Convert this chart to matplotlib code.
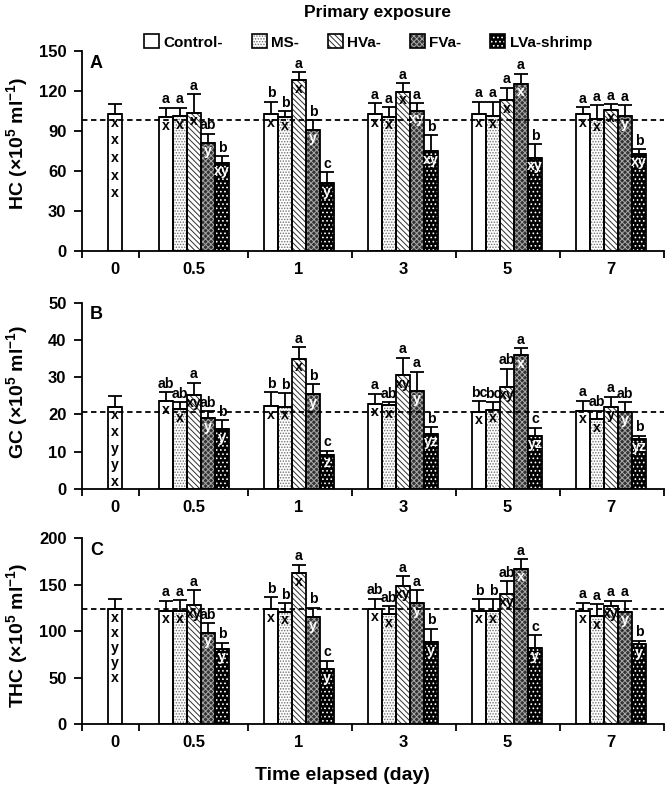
import matplotlib
matplotlib.use('Agg')
import matplotlib.pyplot as plt
from matplotlib.patches import Patch
from matplotlib.legend_handler import HandlerTuple
import numpy as np

plt.rcParams['font.family'] = ['Liberation Sans', 'DejaVu Sans']
plt.rcParams['font.weight'] = 'bold'
plt.rcParams['mathtext.fontset'] = 'custom'
plt.rcParams['mathtext.rm'] = 'Liberation Sans:bold'
plt.rcParams['mathtext.bf'] = 'Liberation Sans:bold'
plt.rcParams['mathtext.it'] = 'Liberation Sans:bold'
plt.rcParams['mathtext.sf'] = 'Liberation Sans:bold'
plt.rcParams['hatch.linewidth'] = 0.7

# ---------------- data ----------------
days = ['0', '0.5', '1', '3', '5', '7']
groups = ['Control-', 'MS-', 'HVa-', 'FVa-', 'LVa-shrimp']

# Panel A: HC
hc_day0 = 102.5
hc_day0_se = 7.5
hc_day0_letters = ['x', 'x', 'x', 'x', 'x']
hc_ref = 98.3
hc_mean = [[100.3, 101.0, 103.7, 81.0, 66.0],
           [102.5, 100.3, 128.0, 90.8, 50.7],
           [102.5, 100.8, 119.5, 105.0, 74.8],
           [102.5, 101.5, 113.0, 125.5, 69.8],
           [102.5, 99.3, 105.8, 101.5, 73.0]]
hc_se = [[7.2, 6.5, 13.8, 7.0, 5.0],
         [9.5, 4.7, 6.0, 7.2, 8.3],
         [8.3, 7.2, 6.5, 5.8, 12.2],
         [9.3, 10.3, 9.5, 7.3, 10.5],
         [5.5, 10.2, 4.2, 8.0, 3.3]]
hc_top = [['a', 'a', 'a', 'ab', 'b'],
          ['b', 'b', 'a', 'b', 'c'],
          ['a', 'a', 'a', 'a', 'b'],
          ['a', 'a', 'a', 'a', 'b'],
          ['a', 'a', 'a', 'a', 'b']]
hc_bot = [['x', 'x', 'x', 'y', 'xy'],
          ['x', 'x', 'x', 'y', 'y'],
          ['x', 'x', 'x', 'xy', 'xy'],
          ['x', 'x', 'x', 'x', 'xy'],
          ['x', 'x', 'x', 'y', 'xy']]

# Panel B: GC
gc_day0 = 22.0
gc_day0_se = 2.8
gc_day0_letters = ['x', 'x', 'y', 'y', 'x']
gc_ref = 20.6
gc_mean = [[23.5, 21.3, 25.3, 18.9, 16.0],
           [22.2, 22.0, 34.9, 25.4, 9.2],
           [22.8, 22.4, 30.5, 26.4, 14.7],
           [20.6, 21.2, 27.4, 35.9, 14.2],
           [21.0, 18.7, 22.0, 20.6, 13.4]]
gc_se = [[2.5, 2.0, 3.2, 1.9, 2.5],
         [3.8, 3.6, 3.1, 2.7, 1.0],
         [2.7, 0.9, 4.7, 5.1, 1.8],
         [3.0, 2.1, 4.9, 1.9, 2.2],
         [2.7, 2.3, 2.7, 2.7, 0.9]]
gc_top = [['ab', 'ab', 'a', 'ab', 'b'],
          ['b', 'b', 'a', 'b', 'c'],
          ['a', 'ab', 'a', 'a', 'b'],
          ['bc', 'bc', 'ab', 'a', 'c'],
          ['a', 'ab', 'a', 'ab', 'b']]
gc_bot = [['x', 'x', 'xy', 'y', 'y'],
          ['x', 'x', 'x', 'y', 'z'],
          ['x', 'x', 'xy', 'y', 'yz'],
          ['x', 'x', 'xy', 'x', 'yz'],
          ['x', 'x', 'y', 'y', 'yz']]

# Panel C: THC
thc_day0 = 123.7
thc_day0_se = 10.7
thc_day0_letters = ['x', 'x', 'y', 'y', 'x']
thc_ref = 124.3
thc_mean = [[122.2, 122.2, 128.0, 98.5, 81.3],
            [123.7, 120.8, 162.4, 115.0, 59.1],
            [124.3, 118.3, 148.7, 130.8, 88.2],
            [122.2, 122.2, 140.1, 167.0, 82.4],
            [121.8, 116.1, 127.2, 120.8, 86.0]]
thc_se = [[10.7, 11.5, 16.4, 10.1, 6.4],
          [12.9, 9.3, 9.2, 10.4, 9.3],
          [10.7, 8.9, 10.8, 13.6, 14.6],
          [12.2, 12.2, 13.7, 10.4, 13.3],
          [9.0, 13.3, 5.7, 12.1, 3.9]]
thc_top = [['a', 'a', 'a', 'ab', 'b'],
           ['b', 'b', 'a', 'b', 'c'],
           ['ab', 'ab', 'a', 'a', 'b'],
           ['b', 'b', 'ab', 'a', 'c'],
           ['a', 'a', 'a', 'a', 'b']]
thc_bot = [['x', 'x', 'xy', 'y', 'y'],
           ['x', 'x', 'x', 'y', 'y'],
           ['x', 'x', 'xy', 'y', 'y'],
           ['x', 'x', 'xy', 'x', 'y'],
           ['x', 'x', 'xy', 'y', 'y']]

# ---------------- layout / style ----------------
boundaries = [0, 0.55, 1.6, 2.6, 3.6, 4.6, 5.6]
centers = [0.32, 1.08, 2.09, 3.09, 4.09, 5.09]
bw = 0.135

styles = [
    dict(face='white', hatch=None, hcolor='black', txt='black'),
    dict(face='white', hatch='......', hcolor='#707070', txt='black'),
    dict(face='white', hatch='\\\\\\\\\\\\', hcolor='#303030', txt='black'),
    dict(face='#333333', hatch='xxxxxx', hcolor='#a8a8a8', txt='white'),
    dict(face='black', hatch='....', hcolor='white', txt='white'),
]

fig = plt.figure(figsize=(6.72, 7.96), dpi=100)
left, width = 0.1216, 0.8665
axA = fig.add_axes([left, 0.6847, width, 0.2513])
axB = fig.add_axes([left, 0.386, width, 0.2337])
axC = fig.add_axes([left, 0.0901, width, 0.2337])

LW = 1.3
LFS = 10.2


def draw_bar(ax, x, h, st):
    ax.bar(x, h, bw, color=st['face'], hatch=st['hatch'],
           edgecolor=st['hcolor'], linewidth=0, zorder=2)
    ax.bar(x, h, bw, fill=False, edgecolor='black', linewidth=LW, zorder=3)


def panel(ax, day0, day0_se, day0_letters, ref, mean, se, top, bot,
          ylim, yticks, letter, spacing):
    # day 0 control bar
    draw_bar(ax, centers[0], day0, styles[0])
    ax.errorbar([centers[0]], [day0], yerr=[[0], [day0_se]], fmt='none',
                ecolor='black', elinewidth=LW, capsize=5, capthick=LW, zorder=4)
    for i, l in enumerate(day0_letters):
        ax.annotate(l, (centers[0], day0), xytext=(0, -1 - i * spacing),
                    textcoords='offset points', ha='center', va='top',
                    fontsize=LFS, color='black', zorder=5)
    for g in range(5):
        for s in range(5):
            x = centers[g + 1] + (s - 2) * bw
            m = mean[g][s]
            e = se[g][s]
            st = styles[s]
            draw_bar(ax, x, m, st)
            ax.errorbar([x], [m], yerr=[[0], [e]], fmt='none', ecolor='black',
                        elinewidth=LW, capsize=5, capthick=LW, zorder=4)
            ax.annotate(top[g][s], (x, m + e), xytext=(0, 1),
                        textcoords='offset points', ha='center', va='bottom',
                        fontsize=LFS, zorder=5)
            ax.annotate(bot[g][s], (x, m), xytext=(0, -1),
                        textcoords='offset points', ha='center', va='top',
                        fontsize=LFS, color=st['txt'], zorder=5)
    ax.axhline(ref, color='black', linestyle=(0, (3, 2)), linewidth=1.3, zorder=6)
    ax.set_xlim(boundaries[0], boundaries[-1])
    ax.set_ylim(*ylim)
    ax.set_yticks(yticks)
    ax.set_xticks(centers)
    ax.set_xticklabels(days)
    ax.set_xticks(boundaries, minor=True)
    ax.tick_params(axis='x', which='major', length=0, pad=8, labelsize=12)
    ax.tick_params(axis='x', which='minor', length=5, width=LW, direction='out')
    ax.tick_params(axis='y', length=6, width=LW, labelsize=12, pad=5)
    for sp in ['top', 'right']:
        ax.spines[sp].set_visible(False)
    for sp in ['left', 'bottom']:
        ax.spines[sp].set_linewidth(LW)
    ax.text(0.014, 0.98, letter, transform=ax.transAxes, ha='left', va='top',
            fontsize=13, fontweight='bold')


panel(axA, hc_day0, hc_day0_se, hc_day0_letters, hc_ref, hc_mean, hc_se,
      hc_top, hc_bot, (0, 150), [0, 30, 60, 90, 120, 150], 'A', 12.7)
panel(axB, gc_day0, gc_day0_se, gc_day0_letters, gc_ref, gc_mean, gc_se,
      gc_top, gc_bot, (0, 50), [0, 10, 20, 30, 40, 50], 'B', 12.0)
panel(axC, thc_day0, thc_day0_se, thc_day0_letters, thc_ref, thc_mean, thc_se,
      thc_top, thc_bot, (0, 200), [0, 50, 100, 150, 200], 'C', 10.8)

for y, name in [(143, 'HC'), (392, 'GC'), (635, 'THC')]:
    fig.text(17 / 672, 1 - y / 796, name + r' (×10$^{5}$ ml$^{-1}$)',
             rotation=90, ha='center', va='center', fontsize=14,
             fontweight='bold')

fig.text(342 / 672, 1 - 775 / 796, 'Time elapsed (day)', ha='center',
         va='center', fontsize=14, fontweight='bold')
fig.text(378 / 672, 1 - 13 / 796, 'Primary exposure', ha='center',
         va='center', fontsize=12.5, fontweight='bold')

handles = []
for st in styles:
    handles.append((Patch(facecolor=st['face'], hatch=st['hatch'],
                          edgecolor=st['hcolor'], linewidth=0),
                    Patch(fill=False, edgecolor='black', linewidth=1.2)))
fig.legend(handles, groups, handler_map={tuple: HandlerTuple(ndivide=1, pad=0)},
           ncol=5, loc='center', bbox_to_anchor=(368 / 672, 1 - 42 / 796),
           frameon=False, fontsize=11, handlelength=1.0, handleheight=1.0,
           handletextpad=0.3, columnspacing=1.85, borderpad=0, borderaxespad=0)

fig.savefig('out.png', dpi=100)
